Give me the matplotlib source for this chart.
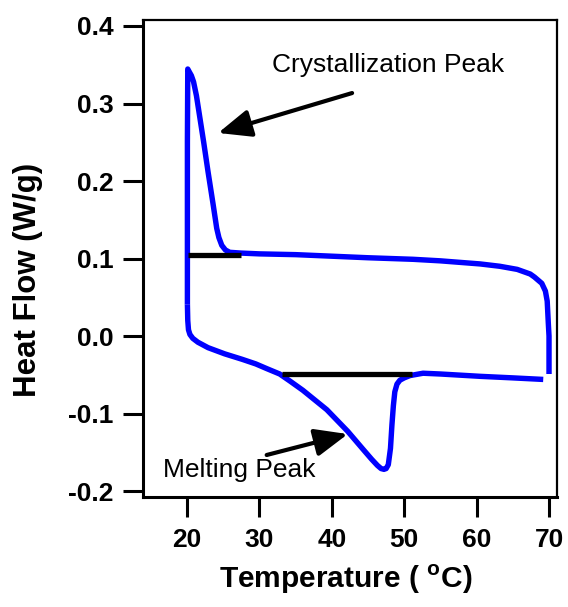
import matplotlib
matplotlib.use("Agg")
import matplotlib.pyplot as plt
from matplotlib.ticker import FixedLocator, FuncFormatter

plt.rcParams['font.family'] = ['Liberation Sans', 'DejaVu Sans']
plt.rcParams['axes.unicode_minus'] = False
plt.rcParams['mathtext.fontset'] = 'custom'
plt.rcParams['mathtext.rm'] = 'Liberation Sans:bold'
plt.rcParams['mathtext.bf'] = 'Liberation Sans:bold'

# heating run 20 -> 70 C (endothermic melting dip)
heat_temp = [20.05, 20.1, 20.2, 20.4, 20.8, 21.5, 22.9, 25.2, 27.6, 29.5, 31.0,
             32.8, 34.2, 36.0, 39.3, 42.2, 44.3, 45.5, 46.3, 46.8, 47.2, 47.5,
             47.8, 48.1, 48.3, 48.5, 48.7, 49.0, 49.4, 50.0, 50.8, 52.6, 55.0,
             60.5, 65.0, 69.2]
heat_flow = [0.041, 0.020, 0.008, 0.002, -0.003, -0.008, -0.015, -0.023, -0.030,
             -0.036, -0.042, -0.049, -0.058, -0.070, -0.095, -0.123, -0.146,
             -0.159, -0.167, -0.171, -0.172, -0.171, -0.166, -0.145, -0.115,
             -0.090, -0.072, -0.062, -0.057, -0.054, -0.051, -0.048, -0.049,
             -0.052, -0.054, -0.056]

# hold at 70 C, cooling run 70 -> 20 C (exothermic crystallization peak), hold at 20 C
cool_temp = [70.0, 70.0, 69.9, 69.75, 69.5, 69.0, 68.0, 67.4, 65.6, 63.2, 60.5,
             55.0, 51.2, 45.0, 40.0, 35.0, 30.0, 27.5, 25.9, 25.3, 24.8, 24.4,
             24.1, 23.6, 22.9, 22.3, 21.8, 21.3, 20.9, 20.6, 20.3, 20.1, 20.05,
             20.05]
cool_flow = [-0.049, 0.0, 0.017, 0.045, 0.058, 0.068, 0.076, 0.080, 0.086, 0.090,
             0.093, 0.097, 0.099, 0.101, 0.103, 0.105, 0.106, 0.107, 0.108, 0.111,
             0.117, 0.127, 0.139, 0.170, 0.212, 0.250, 0.280, 0.310, 0.328, 0.336,
             0.341, 0.3445, 0.25, 0.041]

# integration baselines under each peak
cryst_base_temp = [20.1, 27.5]
cryst_base_flow = [0.105, 0.105]
melt_base_temp = [33.1, 51.1]
melt_base_flow = [-0.049, -0.049]

x_ticks = [20, 30, 40, 50, 60, 70]
y_ticks = [-0.2, -0.1, 0.0, 0.1, 0.2, 0.3, 0.4]

fig = plt.figure(figsize=(5.68, 6.07), dpi=100)
ax = fig.add_axes([0.2518, 0.1812, 0.7288, 0.7858])

ax.plot(heat_temp, heat_flow, color='#0000ff', lw=3.9, solid_joinstyle='round',
        solid_capstyle='butt', zorder=2)
ax.plot(cool_temp, cool_flow, color='#0000ff', lw=3.9, solid_joinstyle='round',
        solid_capstyle='butt', zorder=2)
ax.plot(cryst_base_temp, cryst_base_flow, color='black', lw=3.8,
        solid_capstyle='butt', zorder=3)
ax.plot(melt_base_temp, melt_base_flow, color='black', lw=3.8,
        solid_capstyle='butt', zorder=3)

arrow = dict(arrowstyle='-|>,head_length=1.0,head_width=0.42', color='black',
             lw=3, shrinkA=0, shrinkB=0, mutation_scale=20)
ax.annotate('', xy=(24.3, 0.262), xytext=(42.8, 0.3135), arrowprops=arrow)
ax.annotate('', xy=(42.2, -0.1265), xytext=(31.0, -0.1535), arrowprops=arrow)

ax.text(31.7, 0.3406, 'Crystallization Peak', fontsize=19, ha='left', va='baseline')
ax.text(16.7, -0.182, 'Melting Peak', fontsize=19, ha='left', va='baseline')

ax.set_xlim(13.92, 71.1)
ax.set_ylim(-0.2077, 0.4077)
ax.xaxis.set_major_locator(FixedLocator(x_ticks))
ax.yaxis.set_major_locator(FixedLocator(y_ticks))
ax.yaxis.set_major_formatter(FuncFormatter(lambda v, p: f'{v:.1f}'))

ax.tick_params(direction='out', length=14.4, width=2.2, labelsize=19, pad=7)
ax.tick_params(axis='x', pad=8)
for lab in ax.get_xticklabels() + ax.get_yticklabels():
    lab.set_fontweight('bold')

for side in ['left', 'bottom']:
    ax.spines[side].set_linewidth(2.2)
for side in ['top', 'right']:
    ax.spines[side].set_linewidth(1.6)

ax.set_xlabel(r'Temperature ( $^{\mathrm{o}}$C)', fontsize=21.5, fontweight='bold')
ax.xaxis.set_label_coords(0.49, -0.172)
ax.xaxis.label.set_va('center')
ax.set_ylabel('Heat Flow (W/g)', fontsize=22.5, fontweight='bold', va='center')
ax.yaxis.set_label_coords(-0.278, 0.455)

fig.savefig('out.png', dpi=100)
